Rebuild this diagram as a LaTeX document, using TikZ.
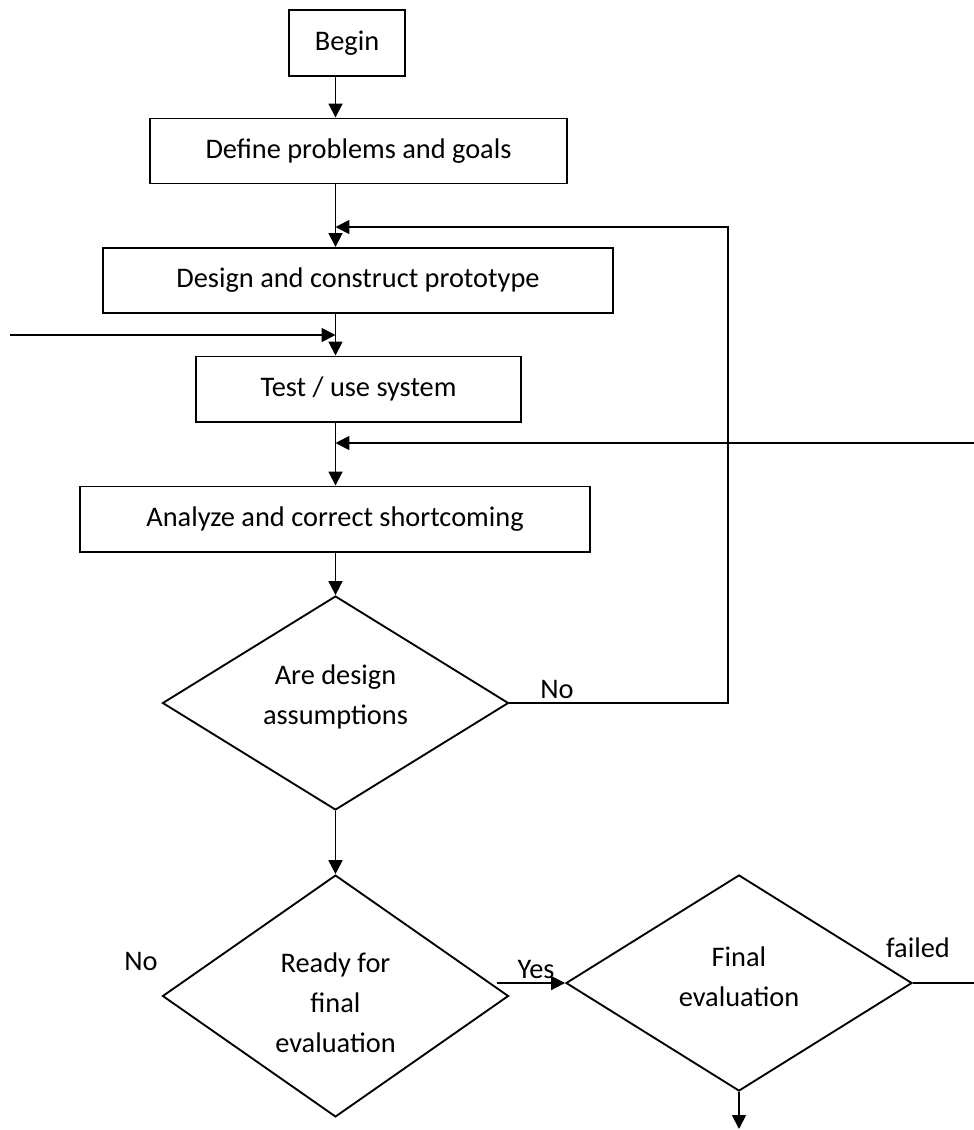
\documentclass[tikz,border=0pt]{standalone}
\usepackage{fontspec}
\setmainfont{Carlito}
\usetikzlibrary{arrows.meta,shapes.geometric,calc}
\begin{document}
\begin{tikzpicture}[x=0.43pt,y=-0.43pt,
  font=\fontsize{12.2}{17.2}\selectfont,
  flow/.style={line width=0.8pt},
  arr/.style={flow,-{Triangle[length=6pt,width=6pt]}},
  stepbox/.style={draw,line width=0.8pt,rectangle,minimum height=28pt,inner sep=0pt},
  decision/.style={draw,line width=0.8pt,diamond,aspect=1.6,inner sep=0pt,minimum width=148.8pt},
  dtext/.style={align=center,inner sep=0pt},
  lbl/.style={anchor=base,inner sep=0pt}]
\useasboundingbox (0,0) rectangle (974,1130);

% process boxes
\node[stepbox,minimum width=49.9pt,minimum height=28.4pt] (begin) at (347,43) {Begin};
\node[stepbox,minimum width=179.3pt] (define) at (358.5,151) {Define problems and goals};
\node[stepbox,minimum width=219.3pt] (design) at (358,280.5) {Design and construct prototype};
\node[stepbox,minimum width=139.8pt] (test) at (358.5,389) {Test / use system};
\node[stepbox,minimum width=219.3pt] (analyze) at (335,519) {Analyze and correct shortcoming};

% decisions
\node[decision,minimum height=92pt] (d1) at (335.5,703) {};
\node[decision,minimum height=104pt] (d2) at (335.5,996) {};
\node[decision,minimum height=92.9pt] (d3) at (739,983) {};
\node[dtext] (d1t) at ([yshift=2.6pt]d1.center) {Are design\\assumptions};
\node[dtext] (d2t) at ([yshift=-3pt]d2.center) {Ready for\\final\\evaluation};
\node[dtext] (d3t) at ([yshift=2.8pt]d3.center) {Final\\evaluation};

% branch labels
\node[lbl] (noA) at (557,698) {No};
\node[lbl] (noB) at (141,970) {No};
\node[lbl] (yes) at (536,978) {Yes};
\node[lbl] (failed) at (918,957) {failed};

% junction points and free ends
\coordinate (spA) at (335.5,227);
\coordinate (loopTop) at (728,227);
\coordinate (inL) at (10,335);
\coordinate (spB) at (335.5,335);
\coordinate (inR) at (974,443);
\coordinate (spC) at (335.5,443);
\coordinate (yesStart) at (497,983);
\coordinate (failEnd) at (974,983);
\coordinate (exitEnd) at (739,1129);

% main flow
\draw[arr] (begin.south -| spA) -- (define.north -| spA);
\draw[arr] (define.south -| spA) -- (design.north -| spA);
\draw[arr] (design.south -| spA) -- (test.north -| spA);
\draw[arr] (test.south -| spA) -- (analyze.north -| spA);
\draw[arr] (analyze.south -| spA) -- (d1.north);
\draw[arr] (d1.south) -- (d2.north);

% loops and side inputs
\draw[arr] (d1.east) -| (loopTop) -- (spA);
\draw[arr] (inL) -- (spB);
\draw[arr] (inR) -- (spC);
\draw[arr] (yesStart) -- (d3.west);
\draw[flow] (d3.east) -- (failEnd);
\draw[arr] (d3.south) -- (exitEnd);
\end{tikzpicture}
\end{document}
